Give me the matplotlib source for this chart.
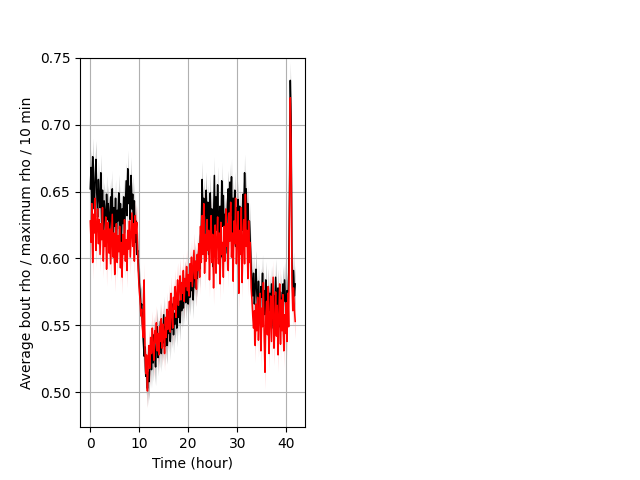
import numpy as np
import matplotlib
matplotlib.use("Agg")
import matplotlib.pyplot as plt

# average rho per 10 min bin, two groups
black_mean = [
    0.652, 0.668, 0.641, 0.676, 0.655, 0.637, 0.662, 0.674, 0.648, 0.631, 0.659, 0.645,
    0.638, 0.664, 0.627, 0.651, 0.619, 0.643, 0.635, 0.612, 0.648, 0.629, 0.641, 0.618,
    0.633, 0.646, 0.621, 0.652, 0.609, 0.638, 0.624, 0.645, 0.615, 0.636, 0.628, 0.649,
    0.622, 0.641, 0.611, 0.637, 0.626, 0.646, 0.619, 0.639, 0.658, 0.632, 0.667, 0.641,
    0.654, 0.629, 0.662, 0.637, 0.648, 0.621, 0.643, 0.612, 0.628, 0.603, 0.606, 0.595,
    0.582, 0.574, 0.563, 0.566, 0.551, 0.538, 0.527, 0.534, 0.512, 0.521, 0.503, 0.515,
    0.508, 0.524, 0.531, 0.517, 0.536, 0.522, 0.543, 0.528, 0.519, 0.538, 0.549, 0.526,
    0.541, 0.532, 0.553, 0.529, 0.545, 0.537, 0.558, 0.534, 0.549, 0.541, 0.535, 0.552,
    0.544, 0.561, 0.538, 0.555, 0.547, 0.566, 0.543, 0.559, 0.551, 0.564, 0.548, 0.571,
    0.556, 0.568, 0.552, 0.575, 0.561, 0.579, 0.563, 0.572, 0.585, 0.567, 0.581, 0.574,
    0.566, 0.583, 0.571, 0.589, 0.576, 0.592, 0.569, 0.587, 0.598, 0.578, 0.594, 0.585,
    0.597, 0.608, 0.592, 0.616, 0.623, 0.659, 0.628, 0.645, 0.612, 0.638, 0.651, 0.622,
    0.642, 0.603, 0.631, 0.649, 0.618, 0.637, 0.594, 0.627, 0.662, 0.609, 0.646, 0.621,
    0.655, 0.628, 0.613, 0.639, 0.601, 0.658, 0.624, 0.647, 0.616, 0.633, 0.604, 0.622,
    0.641, 0.652, 0.619, 0.657, 0.632, 0.661, 0.614, 0.645, 0.628, 0.651, 0.609, 0.638,
    0.626, 0.644, 0.618, 0.639, 0.607, 0.632, 0.621, 0.648, 0.629, 0.664, 0.636, 0.652,
    0.619, 0.641, 0.603, 0.628, 0.611, 0.594, 0.583, 0.572, 0.589, 0.566, 0.578, 0.592,
    0.574, 0.561, 0.583, 0.568, 0.556, 0.579, 0.571, 0.589, 0.562, 0.576, 0.558, 0.584,
    0.566, 0.553, 0.579, 0.561, 0.574, 0.557, 0.581, 0.565, 0.548, 0.572, 0.559, 0.586,
    0.571, 0.556, 0.578, 0.562, 0.549, 0.575, 0.566, 0.552, 0.581, 0.568, 0.584, 0.569,
    0.557, 0.576, 0.563, 0.587, 0.648, 0.733, 0.702, 0.598, 0.574, 0.591, 0.572, 0.581,
]
red_mean = [
    0.628, 0.612, 0.641, 0.597, 0.633, 0.619, 0.645, 0.606, 0.624, 0.637, 0.611, 0.629,
    0.603, 0.626, 0.614, 0.638, 0.598, 0.621, 0.609, 0.631, 0.592, 0.618, 0.627, 0.604,
    0.622, 0.596, 0.615, 0.633, 0.601, 0.619, 0.588, 0.611, 0.626, 0.597, 0.617, 0.605,
    0.624, 0.593, 0.612, 0.586, 0.618, 0.603, 0.629, 0.598, 0.614, 0.591, 0.621, 0.607,
    0.628, 0.601, 0.617, 0.634, 0.609, 0.626, 0.598, 0.632, 0.619, 0.627, 0.605, 0.588,
    0.576, 0.569, 0.557, 0.562, 0.548, 0.541, 0.584, 0.532, 0.514, 0.528, 0.501, 0.522,
    0.535, 0.518, 0.541, 0.529, 0.548, 0.533, 0.524, 0.546, 0.537, 0.552, 0.531, 0.544,
    0.528, 0.549, 0.538, 0.555, 0.533, 0.551, 0.544, 0.529, 0.556, 0.541, 0.562, 0.547,
    0.553, 0.568, 0.545, 0.574, 0.559, 0.548, 0.571, 0.562, 0.579, 0.556, 0.573, 0.584,
    0.565, 0.578, 0.587, 0.569, 0.582, 0.574, 0.591, 0.568, 0.585, 0.579, 0.594, 0.576,
    0.588, 0.572, 0.596, 0.583, 0.601, 0.579, 0.593, 0.606, 0.585, 0.598, 0.577, 0.603,
    0.591, 0.611, 0.586, 0.624, 0.597, 0.632, 0.603, 0.641, 0.589, 0.618, 0.598, 0.629,
    0.606, 0.621, 0.584, 0.613, 0.632, 0.597, 0.618, 0.578, 0.608, 0.625, 0.589, 0.614,
    0.631, 0.596, 0.619, 0.581, 0.627, 0.603, 0.612, 0.586, 0.624, 0.598, 0.637, 0.609,
    0.626, 0.591, 0.634, 0.613, 0.642, 0.601, 0.619, 0.583, 0.628, 0.611, 0.645, 0.596,
    0.617, 0.635, 0.574, 0.621, 0.603, 0.638, 0.582, 0.614, 0.629, 0.596, 0.648, 0.609,
    0.621, 0.585, 0.628, 0.597, 0.612, 0.578, 0.569, 0.557, 0.548, 0.561, 0.535, 0.566,
    0.546, 0.571, 0.539, 0.558, 0.574, 0.531, 0.563, 0.549, 0.582, 0.541, 0.515, 0.557,
    0.568, 0.543, 0.579, 0.529, 0.554, 0.572, 0.538, 0.561, 0.586, 0.533, 0.548, 0.575,
    0.542, 0.565, 0.528, 0.557, 0.581, 0.536, 0.569, 0.546, 0.573, 0.531, 0.558, 0.544,
    0.567, 0.538, 0.574, 0.549, 0.631, 0.720, 0.684, 0.582, 0.561, 0.578, 0.562, 0.553,
]
black_err = 0.014
red_err = 0.013

black_mean = np.array(black_mean)
red_mean = np.array(red_mean)
t = np.arange(len(black_mean)) / 6.0  # 10 min bins in hours

fig = plt.figure(figsize=(6.4, 4.8), dpi=100)
ax = fig.add_subplot(1, 2, 1)
ax.fill_between(t, black_mean - black_err, black_mean + black_err, color='k', alpha=0.25, lw=0)
ax.plot(t, black_mean, color='k', lw=1.1)
ax.fill_between(t, red_mean - red_err, red_mean + red_err, color='r', alpha=0.2, lw=0)
ax.plot(t, red_mean, color='r', lw=1.1)
ax.set_ylim(0.474, 0.75)
ax.set_xlabel('Time (hour)')
ax.set_ylabel('Average bout rho / maximum rho / 10 min')
ax.grid(True)

fig.savefig('out.png')
